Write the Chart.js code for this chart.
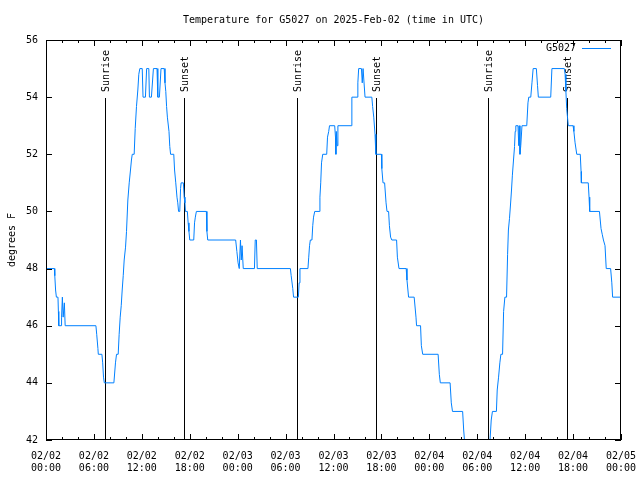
<!DOCTYPE html>
<html><head><meta charset="utf-8">
<script src="https://cdn.jsdelivr.net/npm/chart.js@4"></script>
<style>html,body{margin:0;padding:0;background:#fff}canvas{display:block}</style>
</head><body>
<canvas id="c" width="640" height="480"></canvas>
<script>
// hours since 2025-02-02 00:00 UTC
const hours = [
 0.0,1.05,1.1,1.2,1.3,1.5,1.55,1.6,1.9,1.95,2.05,2.15,2.3,2.4,6.25,6.35,6.5,6.55,7.0,7.1,
 7.2,7.3,8.5,8.7,8.83,9.04,9.16,9.29,9.42,9.54,9.67,9.79,9.96,10.08,10.25,10.42,10.58,10.7,10.8,11.04,
 11.17,11.33,11.5,11.62,11.75,12.05,12.15,12.45,12.6,12.875,12.95,13.2,13.45,13.9,14.0,14.2,14.4,14.8,14.9,15.0,
 15.1,15.2,15.4,15.5,15.6,16.0,16.1,16.25,16.4,16.5,16.6,16.75,16.85,16.92,17.2,17.3,17.4,17.46,17.7,17.8,
 17.9,18.0,18.5,18.6,18.7,18.83,20.08,20.15,20.25,23.75,23.9,24.05,24.2,24.35,24.45,24.55,24.7,26.1,26.2,26.35,
 26.45,30.6,30.7,30.9,31.0,31.6,31.7,31.8,32.8,32.9,33.0,33.1,33.3,33.4,33.5,33.65,34.2,34.3,34.4,34.5,
 34.65,35.15,35.25,35.4,35.5,36.15,36.25,36.3,36.35,36.45,36.55,38.2,38.3,38.95,39.05,39.15,39.5,39.6,39.7,39.8,
 39.95,40.8,40.9,41.04,41.2,41.3,42.0,42.05,42.2,42.4,42.58,42.7,42.9,43.0,43.15,43.3,43.9,44.0,44.2,45.1,
 45.2,45.4,46.1,46.33,46.4,46.9,47.0,47.17,49.1,49.25,49.375,50.6,50.75,50.9,52.17,52.3,52.4,52.8,54.5,55.4,
 55.6,55.75,55.9,56.4,56.5,56.67,56.83,56.96,57.17,57.3,57.46,57.67,57.8,57.9,58.04,58.17,58.29,58.4,58.54,58.67,
 58.75,58.83,59.1,59.2,59.25,59.35,59.45,59.6,60.2,60.35,60.45,60.7,60.85,61.0,61.4,61.55,61.65,63.2,63.35,64.9,
 65.0,65.1,65.2,65.3,65.4,66.0,66.1,66.25,66.46,66.9,67.0,67.04,67.9,68.0,68.08,69.3,69.4,69.5,69.65,69.8,
 70.0,70.15,70.7,70.85,70.95,72.0
];
const tempsF = [
 48,48,47.75,47.25,47,47,46.5,46,46,46.3,47,46.3,46.8,46,46,45.7,45.2,45,45,44.7,
 44.2,44,44,44.7,45,45,45.7,46.3,46.7,47.25,47.75,48.3,48.75,49.3,50.4,51,51.45,51.8,52,52,
 52.9,53.67,54.25,54.8,55,55,54,54,55,55,54,54,55,55,54,54,55,55,54.5,54.2,
 53.67,53.3,52.8,52.27,52,52,51.45,51,50.5,50.3,50,50,50.8,51,51,50.5,50.3,50,50,49.6,
 49.3,49,49,49.6,49.8,50,50,49.3,49,49,48.6,48.2,48,49,48.3,48.8,48,48,49,49,
 48,48,47.75,47.3,47,47,47.5,48,48,48.4,48.8,49,49,49.5,49.8,50,50,50.5,51,51.7,
 52,52,52.6,52.8,53,53,52.6,52,52.8,52.3,53,53,54,54,54.5,55,55,54.5,55,55,
 54,54,53.67,53.3,52.7,52,52,51.5,51,51,50.3,50,50,49.5,49.1,49,49,48.4,48,48,
 47.6,47,47,46.3,46,46,45.3,45,45,44.3,44,44,43.3,43,43,42.35,42,41.6,41.4,41.6,
 42,42.7,43,43,43.75,44.2,44.7,45,45,46.5,47,47,48.5,49.35,49.76,50.26,50.75,51.27,51.8,52.27,
 52.8,53,53,52.3,53,52,52.3,53,53,53.8,54,54,54.5,55,55,54.4,54,54,55,55,
 54.8,54.2,53.6,53.3,53,53,52.8,52.4,52,52,51.4,51,51,50.5,50,50,49.7,49.4,49.2,49,
 48.8,48,48,47.5,47,47
];
const xTickDates = ['02/02','02/02','02/02','02/02','02/03','02/03','02/03','02/03','02/04','02/04','02/04','02/04','02/05'];
const xTickTimes = ['00:00','06:00','12:00','18:00','00:00','06:00','12:00','18:00','00:00','06:00','12:00','18:00','00:00'];
const yMin = 42, yMax = 56, yStep = 2;
const xMin = 0, xMax = 72, xMajorStep = 6, xMinorStep = 2;
const sunriseHours = [7.4, 31.4, 55.3];
const sunsetHours = [17.28, 41.28, 65.2];
const seriesName = 'G5027';
const titleText = 'Temperature for G5027 on 2025-Feb-02 (time in UTC)';
const yAxisTitle = 'degrees F';

const LINE_COLOR = 'rgb(0,128,255)';
const FONT_FAMILY = '"DejaVu Sans Mono", "Liberation Mono", monospace';
const FONT = '10px ' + FONT_FAMILY;

const points = hours.map((h, i) => ({x: h, y: tempsF[i]}));

const overlay = {
  id: 'overlay',
  beforeDatasetsDraw(chart) {
    const {ctx, chartArea: a, scales: {x}} = chart;
    ctx.save();
    ctx.strokeStyle = '#000';
    ctx.fillStyle = '#000';
    ctx.lineWidth = 1;
    ctx.font = FONT;
    const ev = (h, label) => {
      const px = Math.round(x.getPixelForValue(h)) + 0.5;
      ctx.beginPath();
      ctx.moveTo(px, a.top + 58);
      ctx.lineTo(px, a.bottom);
      ctx.stroke();
      ctx.save();
      ctx.translate(px + 1, a.top + 52);
      ctx.rotate(-Math.PI / 2);
      ctx.textAlign = 'left';
      ctx.textBaseline = 'middle';
      ctx.fillText(label, 0, 0);
      ctx.restore();
    };
    sunriseHours.forEach(h => ev(h, 'Sunrise'));
    sunsetHours.forEach(h => ev(h, 'Sunset'));
    ctx.restore();
  },
  afterDraw(chart) {
    const {ctx, chartArea: a, scales: {x, y}} = chart;
    ctx.save();
    ctx.strokeStyle = '#000';
    ctx.lineWidth = 1;
    ctx.strokeRect(a.left + 0.5, a.top + 0.5, a.right - a.left - 1, a.bottom - a.top - 1);
    ctx.beginPath();
    for (let h = xMin; h <= xMax; h += xMinorStep) {
      const px = Math.round(x.getPixelForValue(h)) + 0.5;
      const len = (h % xMajorStep === 0) ? 6 : 3;
      ctx.moveTo(px, a.bottom); ctx.lineTo(px, a.bottom - len);
      ctx.moveTo(px, a.top); ctx.lineTo(px, a.top + len);
    }
    for (let v = yMin; v <= yMax; v += yStep) {
      const py = Math.round(y.getPixelForValue(v)) + 0.5;
      ctx.moveTo(a.left, py); ctx.lineTo(a.left + 6, py);
      ctx.moveTo(a.right, py); ctx.lineTo(a.right - 6, py);
    }
    ctx.stroke();
    ctx.fillStyle = '#000';
    ctx.font = FONT;
    ctx.textAlign = 'center';
    ctx.textBaseline = 'middle';
    ctx.fillText(titleText, (a.left + a.right) / 2, 20);
    ctx.save();
    ctx.translate(12, (a.top + a.bottom) / 2);
    ctx.rotate(-Math.PI / 2);
    ctx.fillText(yAxisTitle, 0, 0);
    ctx.restore();
    ctx.textAlign = 'right';
    ctx.fillText(seriesName, 576, a.top + 8);
    ctx.strokeStyle = LINE_COLOR;
    ctx.beginPath();
    ctx.moveTo(582, a.top + 8.5);
    ctx.lineTo(611, a.top + 8.5);
    ctx.stroke();
    ctx.restore();
  }
};

new Chart(document.getElementById('c'), {
  type: 'line',
  data: {
    datasets: [{
      label: seriesName,
      data: points,
      borderColor: LINE_COLOR,
      backgroundColor: LINE_COLOR,
      borderWidth: 1,
      pointRadius: 0,
      tension: 0,
      fill: false
    }]
  },
  options: {
    responsive: false,
    animation: false,
    devicePixelRatio: 1,
    layout: {padding: {left: 0, right: 19, top: 40, bottom: 0}},
    plugins: {legend: {display: false}, title: {display: false}, tooltip: {enabled: false}},
    scales: {
      x: {
        type: 'linear',
        min: xMin, max: xMax,
        grid: {display: false, drawTicks: false},
        border: {display: false},
        afterFit(s) { s.height = 40; s.paddingLeft = 0; s.paddingRight = 0; },
        ticks: {
          stepSize: xMajorStep,
          autoSkip: false,
          maxRotation: 0,
          padding: 10,
          color: '#000',
          font: {family: FONT_FAMILY, size: 10, lineHeight: 1.2},
          callback: (v) => { const i = Math.round(v / xMajorStep); return [xTickDates[i], xTickTimes[i]]; }
        }
      },
      y: {
        min: yMin, max: yMax,
        grid: {display: false, drawTicks: false},
        border: {display: false},
        afterFit(s) { s.width = 46; s.paddingTop = 0; s.paddingBottom = 0; },
        ticks: {
          stepSize: yStep,
          padding: 8,
          color: '#000',
          font: {family: FONT_FAMILY, size: 10}
        }
      }
    }
  },
  plugins: [overlay]
});
</script>
</body></html>
